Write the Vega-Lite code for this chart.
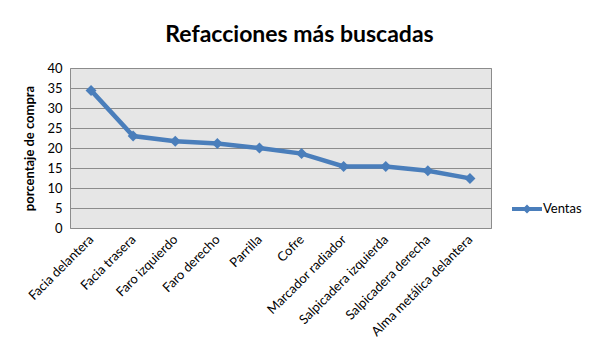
{
  "$schema": "https://vega.github.io/schema/vega-lite/v6.json",
  "width": 421,
  "height": 160,
  "autosize": {"type": "none"},
  "padding": {"left": 70, "top": 68, "right": 106, "bottom": 132},
  "background": "white",
  "title": {
    "text": "Refacciones más buscadas",
    "font": "Lato",
    "fontSize": 23,
    "fontWeight": "bold",
    "color": "#000000",
    "anchor": "middle",
    "dx": 19,
    "offset": 15
  },
  "config": {
    "font": "Lato",
    "view": {"fill": "#E6E6E6", "stroke": "#8C8C8C", "strokeWidth": 1}
  },
  "data": {
    "values": [
      {"pieza": "Facia delantera", "porcentaje": 34.4, "serie": "Ventas"},
      {"pieza": "Facia trasera", "porcentaje": 23.0, "serie": "Ventas"},
      {"pieza": "Faro izquierdo", "porcentaje": 21.7, "serie": "Ventas"},
      {"pieza": "Faro derecho", "porcentaje": 21.1, "serie": "Ventas"},
      {"pieza": "Parrilla", "porcentaje": 20.0, "serie": "Ventas"},
      {"pieza": "Cofre", "porcentaje": 18.6, "serie": "Ventas"},
      {"pieza": "Marcador radiador", "porcentaje": 15.4, "serie": "Ventas"},
      {"pieza": "Salpicadera izquierda", "porcentaje": 15.4, "serie": "Ventas"},
      {"pieza": "Salpicadera derecha", "porcentaje": 14.3, "serie": "Ventas"},
      {"pieza": "Alma metálica delantera", "porcentaje": 12.4, "serie": "Ventas"}
    ]
  },
  "mark": {
    "type": "line",
    "strokeWidth": 4.5,
    "point": {"shape": "diamond", "size": 120, "filled": true, "color": "#4A7EBB"}
  },
  "encoding": {
    "x": {
      "field": "pieza",
      "type": "nominal",
      "sort": null,
      "axis": {
        "title": null,
        "labelAngle": -45,
        "labelAlign": "right",
        "labelBaseline": "middle",
        "labelFontSize": 13,
        "labelColor": "#000000",
        "labelPadding": 9,
        "ticks": false,
        "domain": false,
        "grid": false
      }
    },
    "y": {
      "field": "porcentaje",
      "type": "quantitative",
      "scale": {"domain": [0, 40]},
      "axis": {
        "title": "porcentaje de compra",
        "titleFont": "Lato",
        "titleFontSize": 13,
        "titleFontWeight": "bold",
        "titleColor": "#000000",
        "titlePadding": 10,
        "values": [0, 5, 10, 15, 20, 25, 30, 35, 40],
        "labelFontSize": 13,
        "labelColor": "#000000",
        "labelPadding": 8,
        "ticks": false,
        "domain": false,
        "grid": true,
        "gridColor": "#8C8C8C",
        "gridWidth": 1
      }
    },
    "color": {
      "field": "serie",
      "type": "nominal",
      "scale": {"range": ["#4A7EBB"]},
      "legend": {
        "title": null,
        "orient": "none",
        "legendX": 447,
        "legendY": 131,
        "labelFontSize": 13,
        "labelColor": "#000000",
        "labelOffset": 6,
        "symbolType": "M-1.5,-0.2 L1.5,-0.2 L1.5,0.2 L-1.5,0.2 Z M0,-0.45 L0.45,0 L0,0.45 L-0.45,0 Z",
        "symbolSize": 400,
        "symbolFillColor": "#4A7EBB",
        "symbolStrokeWidth": 0
      }
    }
  }
}
